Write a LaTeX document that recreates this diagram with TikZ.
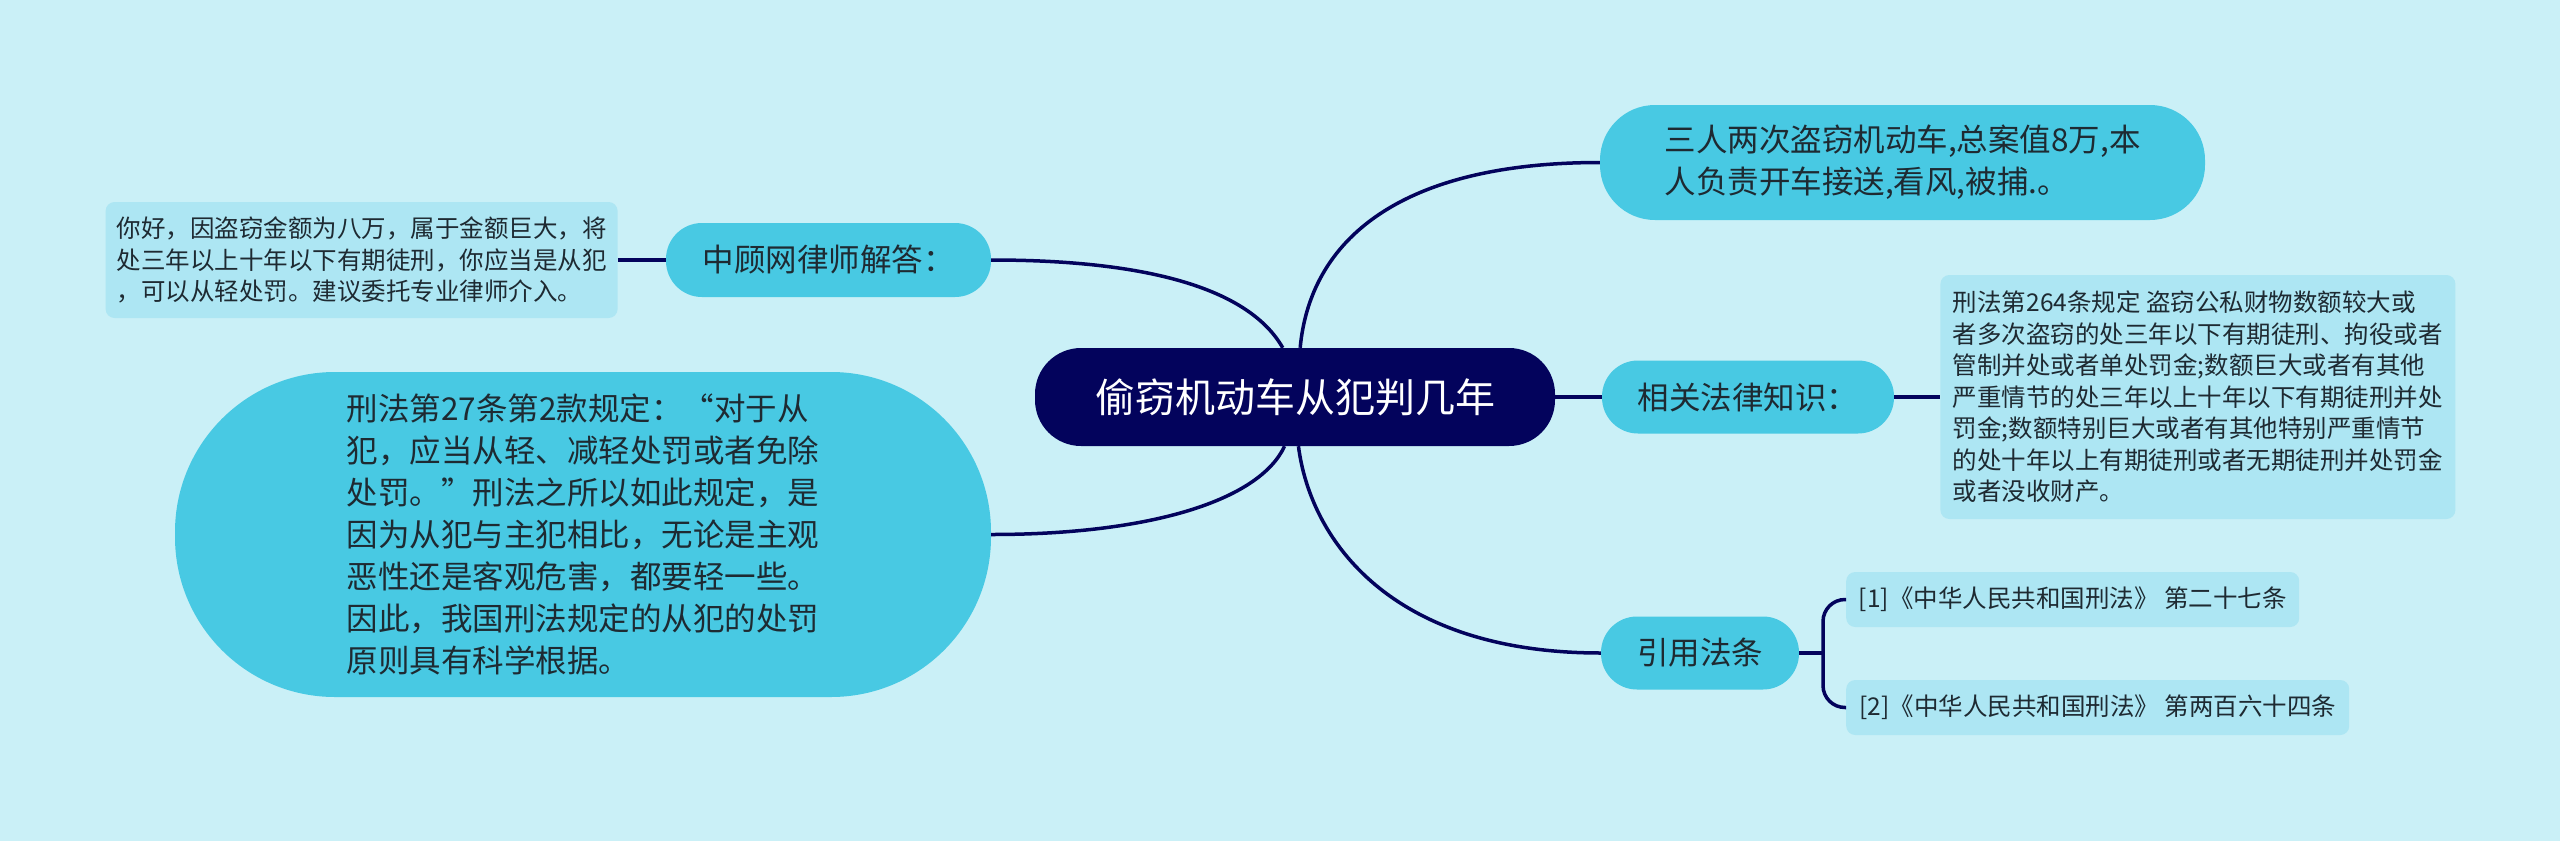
\documentclass[tikz,border=0pt]{standalone}
\usepackage{fontspec}
\usepackage{tikz}
\usetikzlibrary{positioning}
\newfontfamily\cjk{Noto Sans CJK SC}
\definecolor{fond}{HTML}{CAF0F7}
\definecolor{nuit}{HTML}{03035C}
\definecolor{bleuA}{HTML}{48C9E3}
\definecolor{bleuB}{HTML}{ADE6F3}
\definecolor{encre}{HTML}{1E2A32}
\tikzset{
  racine/.style={rectangle, rounded corners=46pt, fill=nuit, text=white, inner sep=0pt,
                 minimum width=520pt, minimum height=98pt, font=\cjk\fontsize{40}{48}\selectfont},
  sujet/.style={rectangle, rounded corners=#1, fill=bleuA, text=encre, inner sep=0pt,
                align=left, font=\cjk\fontsize{31.5}{42}\selectfont},
  sujet/.default=36pt,
  feuille/.style={rectangle, rounded corners=9pt, fill=bleuB, text=encre, inner sep=0pt,
                  align=left, font=\cjk\fontsize{24.5}{31.5}\selectfont},
  lien/.style={draw=nuit, line width=3.5pt},
}

\begin{document}
\begin{tikzpicture}[x=1pt, y=-1pt, node distance=46pt]
  \fill[fond] (0,0) rectangle (2560,841);
  \useasboundingbox (0,0) rectangle (2560,841);

  \node[racine] (root) at (1295,397) {偷窃机动车从犯判几年};

  \node[sujet=55pt, minimum width=605pt, minimum height=115pt] (tri) at (1902.5,162.5)
    {三人两次盗窃机动车,总案值8万,本\\人负责开车接送,看风,被捕.。};
  \node[sujet, minimum width=325pt, minimum height=74pt] (ask) at (828.5,260)
    {中顾网律师解答：};
  \node[feuille, minimum width=512pt, minimum height=116pt, left=48pt of ask] (conseil)
    {你好，因盗窃金额为八万，属于金额巨大，将\\处三年以上十年以下有期徒刑，你应当是从犯\\，可以从轻处罚。建议委托专业律师介入。};
  \node[sujet=160pt, minimum width=816pt, minimum height=325pt] (big) at (583,534.5)
    {刑法第27条第2款规定：“对于从\\犯，应当从轻、减轻处罚或者免除\\处罚。”刑法之所以如此规定，是\\因为从犯与主犯相比，无论是主观\\恶性还是客观危害，都要轻一些。\\因此，我国刑法规定的从犯的处罚\\原则具有科学根据。};
  \node[sujet, minimum width=292pt, minimum height=73pt] (law) at (1748,397)
    {相关法律知识：};
  \node[feuille, minimum width=515pt, minimum height=244pt, right=of law] (art)
    {刑法第264条规定 盗窃公私财物数额较大或\\者多次盗窃的处三年以下有期徒刑、拘役或者\\管制并处或者单处罚金;数额巨大或者有其他\\严重情节的处三年以上十年以下有期徒刑并处\\罚金;数额特别巨大或者有其他特别严重情节\\的处十年以上有期徒刑或者无期徒刑并处罚金\\或者没收财产。};
  \node[sujet, minimum width=198pt, minimum height=73pt] (ref) at (1700,653) {引用法条};
  \node[feuille, minimum width=453pt, minimum height=55pt, anchor=west] (cite1) at (1846,599.5)
    {[1]《中华人民共和国刑法》 第二十七条};
  \node[feuille, minimum width=503pt, minimum height=55pt, anchor=west] (cite2) at (1846,707.5)
    {[2]《中华人民共和国刑法》 第两百六十四条};
  \coordinate (fork) at (1823,653);

  % branches from the centre
  \draw[lien] (root.104) .. controls +(-33,-58) and +(160,0) .. (ask.east);
  \draw[lien] (root.84) .. controls +(10,-108) and +(-200,0) .. (tri.west);
  \draw[lien] (root.258) .. controls +(-25,54) and +(160,0) .. (big.east);
  \draw[lien] (root.274) .. controls +(12,94) and +(-210,0) .. (ref.west);
  \draw[lien] (root) -- (law);
  \draw[lien] (conseil) -- (ask); \draw[lien] (law) -- (art);
  \draw[lien] (ref) -- (fork);
  \draw[lien, rounded corners=22pt] (cite1.west) -| (fork) |- (cite2.west);
\end{tikzpicture}
\end{document}
